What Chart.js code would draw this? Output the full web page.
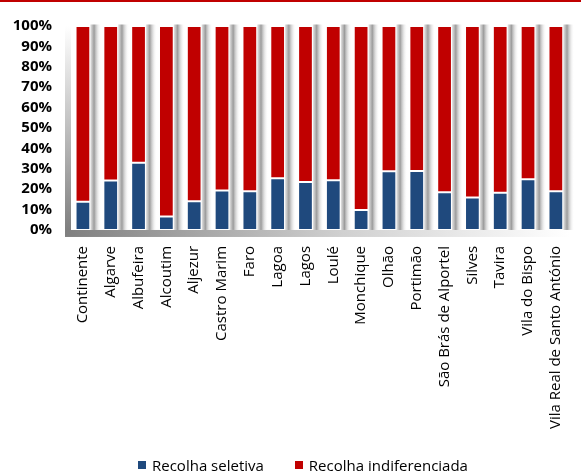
<!DOCTYPE html>
<html>
<head>
<meta charset="utf-8">
<script src="https://cdn.jsdelivr.net/npm/chart.js@4/dist/chart.umd.min.js"></script>
<style>
  html, body { margin: 0; padding: 0; background: #fff; overflow: hidden; }
  #wrap { position: relative; width: 581px; height: 473px; overflow: hidden; }
  #topline { position: absolute; left: 0; top: 0; width: 581px; height: 2px; background: #c00000; }
  #box { position: absolute; left: 0; top: 0; width: 590px; height: 473px; }
  #legend {
    position: absolute; top: 455px; left: 138px;
    display: flex; align-items: center;
    font-family: "Open Sans", sans-serif; font-size: 15px; color: #000;
  }
  #legend span.sw { display: inline-block; width: 8px; height: 8px; margin-right: 6px; }
  #legend span.item { display: flex; align-items: center; margin-right: 31px; }
</style>
</head>
<body>
<div id="wrap">
  <div id="box"><canvas id="chart"></canvas></div>
  <div id="topline"></div>
  <div id="legend"></div>
</div>
<script>
const labels = ['Continente', 'Algarve', 'Albufeira', 'Alcoutim', 'Aljezur', 'Castro Marim',
  'Faro', 'Lagoa', 'Lagos', 'Loulé', 'Monchique', 'Olhão', 'Portimão',
  'São Brás de Alportel', 'Silves', 'Tavira', 'Vila do Bispo', 'Vila Real de Santo António'];
const seletiva = [13.8, 24.3, 33.0, 6.6, 14.1, 19.3, 19.0, 25.4, 23.5, 24.4, 9.8, 28.8, 28.9, 18.5, 15.9, 18.3, 24.9, 19.0];
const indiferenciada = [86.2, 75.7, 67.0, 93.4, 85.9, 80.7, 81.0, 74.6, 76.5, 75.6, 90.2, 71.2, 71.1, 81.5, 84.1, 81.7, 75.1, 81.0];
const yTicks = [0, 10, 20, 30, 40, 50, 60, 70, 80, 90, 100];

const BLUE = '#1f497d';
const RED = '#c00000';

// ===== 3d-ish wall, floor and bar shadows =====
const depthPlugin = {
  id: 'depth',
  beforeDatasetsDraw(chart) {
    const { ctx, chartArea: a } = chart;
    ctx.save();
    // left wall
    let g = ctx.createLinearGradient(0, a.top, 0, a.bottom);
    g.addColorStop(0, '#ffffff');
    g.addColorStop(1, '#7f7f7f');
    ctx.fillStyle = g;
    ctx.fillRect(a.left - 4, a.top - 2, 6, a.bottom - a.top + 8);
    // floor
    g = ctx.createLinearGradient(a.left - 4, 0, a.right, 0);
    g.addColorStop(0, '#7f7f7f');
    g.addColorStop(0.55, '#d0d0d0');
    g.addColorStop(1, '#ffffff');
    ctx.fillStyle = g;
    ctx.fillRect(a.left - 4, a.bottom, a.right - a.left + 4, 7);
    // bar shadows
    const top = chart.getDatasetMeta(1).data;
    chart.getDatasetMeta(0).data.forEach((bar, i) => {
      const x0 = bar.x + bar.width / 2;
      const y0 = top[i].y - 1.5;
      const sg = ctx.createLinearGradient(x0, 0, x0 + 11, 0);
      sg.addColorStop(0, '#e6e6e6');
      sg.addColorStop(0.35, '#9c9c9c');
      sg.addColorStop(1, 'rgba(255,255,255,0)');
      ctx.fillStyle = sg;
      ctx.fillRect(x0, y0, 11, bar.base - y0);
    });
    ctx.restore();
  }
};

const chart = new Chart(document.getElementById('chart'), {
  type: 'bar',
  data: {
    labels: labels,
    datasets: [
      { label: 'Recolha seletiva', data: seletiva, backgroundColor: BLUE,
        borderColor: 'rgba(255,255,255,0.85)', borderWidth: 1, borderSkipped: false },
      { label: 'Recolha indiferenciada', data: indiferenciada, backgroundColor: RED,
        borderColor: 'rgba(255,255,255,0.85)', borderWidth: 1, borderSkipped: false }
    ]
  },
  options: {
    responsive: true,
    maintainAspectRatio: false,
    animation: false,
    layout: { padding: { top: 12, right: 5, bottom: 28, left: 0 } },
    datasets: { bar: { barPercentage: 0.53, categoryPercentage: 1 } },
    plugins: {
      legend: { display: false },
      tooltip: { enabled: false }
    },
    scales: {
      x: {
        stacked: true,
        grid: { display: false, drawTicks: false },
        border: { display: false },
        ticks: {
          autoSkip: false, minRotation: 90, maxRotation: 90, padding: 16,
          color: '#000', font: { family: 'Open Sans', size: 15 }
        }
      },
      y: {
        stacked: true,
        min: 0, max: 100,
        afterFit: (s) => { s.width = 69; },
        afterBuildTicks: (s) => { s.ticks = yTicks.map(v => ({ value: v })); },
        grid: { display: false, drawTicks: false },
        border: { display: false },
        ticks: {
          autoSkip: false, stepSize: 10,
          padding: 17, color: '#000',
          font: { family: 'Open Sans', size: 15, weight: 'bold' },
          callback: (v) => v + '%'
        }
      }
    }
  },
  plugins: [depthPlugin]
});

// ===== legend =====
const leg = document.getElementById('legend');
chart.data.datasets.forEach(ds => {
  const item = document.createElement('span');
  item.className = 'item';
  item.innerHTML = '<span class="sw" style="background:' + ds.backgroundColor + '"></span>' + ds.label;
  leg.appendChild(item);
});
</script>
</body>
</html>
